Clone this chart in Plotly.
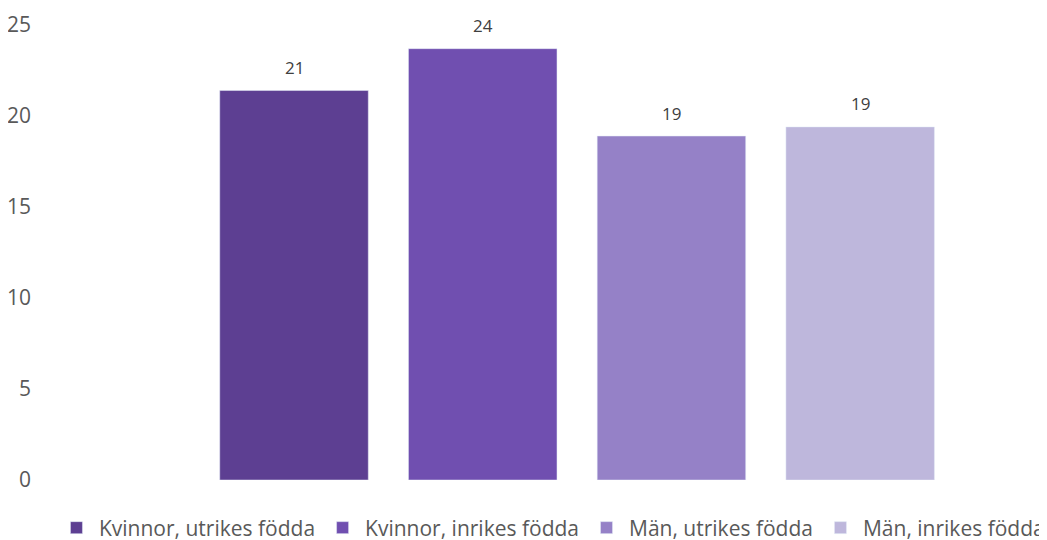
import plotly.graph_objects as go

# andel (%) per grupp
grupper = ['Kvinnor, utrikes födda', 'Kvinnor, inrikes födda', 'Män, utrikes födda', 'Män, inrikes födda']
varden = [21.4, 23.7, 18.9, 19.4]
farger = ['#5d3f92', '#704fb0', '#9581c7', '#beb7dc']

fig = go.Figure()
for namn, v, c in zip(grupper, varden, farger):
    fig.add_trace(go.Bar(name=namn, x=[namn], y=[v], marker_color=c))
    # värdeetikett ovanför stapeln
    fig.add_annotation(x=namn, y=v, text=f'{v:.0f}', showarrow=False,
                       yanchor='middle', yshift=23,
                       font=dict(size=17, color='#404040'))

fig.update_layout(
    width=1047, height=540,
    margin=dict(l=32, r=18, t=17, b=68, autoexpand=False),
    paper_bgcolor='white', plot_bgcolor='white',
    font=dict(family='Open Sans', color='#595959', size=21),
    barmode='overlay', bargap=0.213,
    showlegend=True,
    legend=dict(orientation='h', x=0.014, xanchor='left', y=-0.1055, yanchor='middle',
                font=dict(size=21, color='#595959'), itemwidth=35),
    xaxis=dict(range=[-1.346, 3.937], showticklabels=False, showgrid=False,
               zeroline=False, showline=False),
    yaxis=dict(range=[0, 25], tickvals=[0, 5, 10, 15, 20, 25], showgrid=False,
               zeroline=False, showline=False, ticks='', ticklabelstandoff=8),
)

fig.write_html('out.html')
